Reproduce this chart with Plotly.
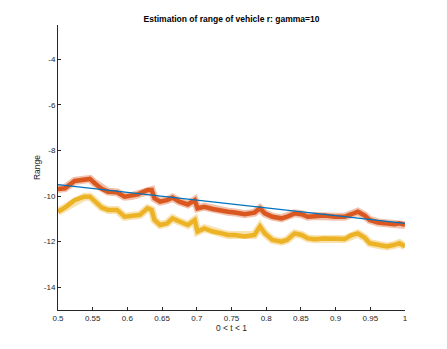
import plotly.graph_objects as go

# ---- data ----
t_est = [0.500, 0.510, 0.524, 0.538, 0.546, 0.553, 0.563, 0.572, 0.585, 0.596,
         0.606, 0.615, 0.618, 0.629, 0.635, 0.639, 0.647, 0.657, 0.665, 0.675,
         0.687, 0.697, 0.701, 0.711, 0.723, 0.736, 0.745, 0.755, 0.769, 0.783,
         0.791, 0.798, 0.809, 0.822, 0.830, 0.841, 0.851, 0.860, 0.870, 0.884,
         0.899, 0.913, 0.923, 0.932, 0.942, 0.949, 0.961, 0.974, 0.985, 0.992, 1.000]

range_est = [-9.69, -9.66, -9.34, -9.30, -9.25, -9.44, -9.69, -9.81, -9.84, -10.03,
             -10.00, -9.93, -9.88, -9.74, -9.74, -10.10, -10.25, -10.18, -10.07, -10.25,
             -10.37, -10.18, -10.54, -10.47, -10.57, -10.66, -10.69, -10.72, -10.80, -10.73,
             -10.54, -10.76, -10.91, -10.98, -10.91, -10.76, -10.80, -10.91, -10.88, -10.86,
             -10.91, -10.91, -10.80, -10.69, -10.86, -11.05, -11.16, -11.20, -11.24, -11.20, -11.27]

range_low = [-10.69, -10.51, -10.18, -10.03, -10.03, -10.25, -10.51, -10.61, -10.61, -10.91,
             -10.86, -10.80, -10.83, -10.54, -10.61, -11.05, -11.27, -11.20, -10.98, -11.12,
             -11.27, -11.05, -11.56, -11.42, -11.56, -11.64, -11.71, -11.71, -11.78, -11.71,
             -11.34, -11.64, -11.93, -12.00, -11.93, -11.64, -11.71, -11.86, -11.90, -11.86,
             -11.89, -11.89, -11.71, -11.64, -11.83, -12.07, -12.14, -12.21, -12.14, -12.07, -12.21]

t_true = [0.5, 1.0]
range_true = [-9.5, -11.2]

x_ticks = [0.5, 0.55, 0.6, 0.65, 0.7, 0.75, 0.8, 0.85, 0.9, 0.95, 1]
x_tick_labels = ["0.5", "0.55", "0.6", "0.65", "0.7", "0.75", "0.8", "0.85", "0.9", "0.95", "1"]
y_ticks = [-14, -12, -10, -8, -6, -4]
y_tick_labels = ["-14", "-12", "-10", "-8", "-6", "-4"]

FONT = "Liberation Sans, Arial, sans-serif"
AX = "#262626"
W, H = 431, 333  # page body has an 8px margin

fig = go.Figure()
for ys, col in ((range_low, "#EDB120"), (range_est, "#D95319")):
    # soft halo imitating the noisy band, then the solid core
    fig.add_trace(go.Scatter(x=t_est, y=ys, mode="lines",
                             line=dict(color=col, width=8), opacity=0.35,
                             showlegend=False, hoverinfo="skip"))
    fig.add_trace(go.Scatter(x=t_est, y=ys, mode="lines",
                             line=dict(color=col, width=4.5), opacity=0.95,
                             showlegend=False))
fig.add_trace(go.Scatter(x=t_true, y=range_true, mode="lines",
                         line=dict(color="#0072BD", width=1.2), showlegend=False))

fig.update_layout(
    width=W, height=H,
    margin=dict(l=50, r=34, t=17, b=31, autoexpand=False),
    paper_bgcolor="white", plot_bgcolor="white",
    font=dict(family=FONT, size=8, color=AX),
    title=dict(text="<b>Estimation of range of vehicle r: gamma=10</b>",
               x=(50 + 397) / 2 / W, xanchor="center",
               y=1 - 11 / H, yanchor="middle", automargin=False,
               font=dict(family=FONT, size=8.5, color="black")),
    xaxis=dict(range=[0.5, 1], tickvals=x_ticks, ticktext=x_tick_labels,
               ticks="inside", ticklen=3, tickcolor=AX, tickwidth=1,
               showline=True, linecolor=AX, linewidth=1, mirror=False,
               showgrid=False, zeroline=False, automargin=False,
               title=dict(text="0 < t < 1", standoff=1, font=dict(size=8.5))),
    yaxis=dict(range=[-15, -2.5], tickvals=y_ticks, ticktext=y_tick_labels,
               ticks="inside", ticklen=3, tickcolor=AX, tickwidth=1,
               showline=True, linecolor=AX, linewidth=1, mirror=False,
               showgrid=False, zeroline=False, automargin=False,
               title=dict(text="Range", standoff=1, font=dict(size=8.5))),
)

fig.write_html("out.html")
